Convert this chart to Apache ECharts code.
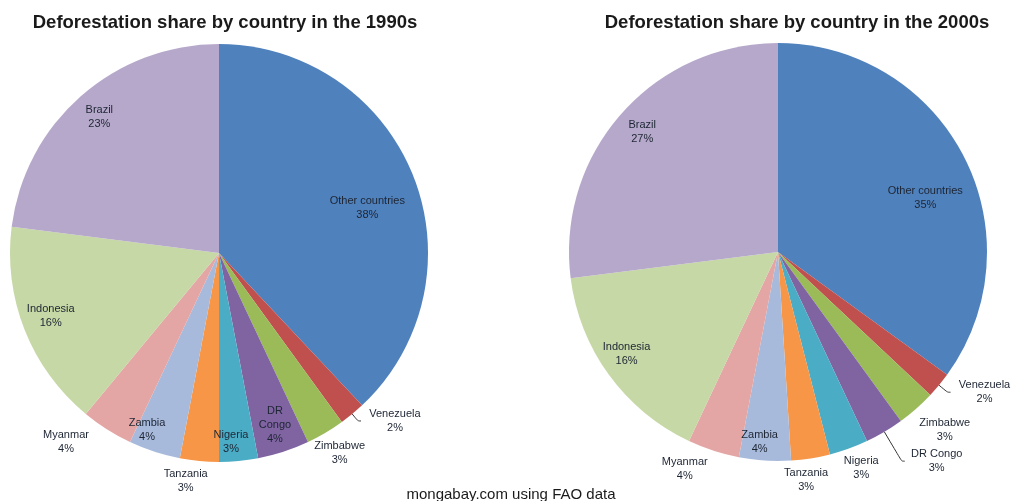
<!DOCTYPE html>
<html>
<head>
<meta charset="utf-8">
<script src="https://cdn.jsdelivr.net/npm/echarts@6/dist/echarts.min.js"></script>
<style>
  html, body { margin: 0; padding: 0; background: #fff; }
  #chart { width: 1013px; height: 501px; }
</style>
</head>
<body>
<div id="chart"></div>
<script>
// slices in clockwise order starting at 12 o'clock
var categories = ['Other countries', 'Venezuela', 'Zimbabwe', 'DR Congo', 'Nigeria',
                  'Tanzania', 'Zambia', 'Myanmar', 'Indonesia', 'Brazil'];
var share1990s = [38, 2, 3, 4, 3, 3, 4, 4, 16, 23];
var share2000s = [35, 2, 3, 3, 3, 3, 4, 4, 16, 27];

// where each label sits
var inner1990s = ['Other countries', 'DR Congo', 'Nigeria', 'Zambia', 'Indonesia', 'Brazil'];
var outer1990s = ['Zimbabwe', 'Tanzania', 'Myanmar'];
var lined1990s = ['Venezuela'];
var inner2000s = ['Other countries', 'Zambia', 'Indonesia', 'Brazil'];
var outer2000s = ['Zimbabwe', 'Nigeria', 'Tanzania', 'Myanmar'];
var lined2000s = ['Venezuela', 'DR Congo'];

// small nudges so labels land where Excel's best-fit put them
var nudge1990s = { 'Other countries': [-20, 22], 'Myanmar': [-26, -11], 'Tanzania': [-11, -8],
                   'Zambia': [-16, 5], 'Nigeria': [-5, 9], 'Zimbabwe': [0, -4], 'Indonesia': [0, -4] };
var nudge2000s = { 'Other countries': [-14, 28], 'Myanmar': [-20, -8], 'Tanzania': [-9, -6],
                   'Zambia': [-7, 9], 'Nigeria': [3, -7], 'Zimbabwe': [10, 0], 'Indonesia': [-5, -4] };

var colors = ['#4F81BD', '#C0504D', '#9BBB59', '#8064A2', '#4BACC6',
              '#F79646', '#A8BADC', '#E3A6A5', '#C6D8A5', '#B6A8CA'];

var FONT = '"Liberation Sans", Arial, sans-serif';
var TXT = '#1d2533';
var R = 209;

function labelText(name, yearKey) {
    if (yearKey === '1990s' && name === 'DR Congo') return 'DR\nCongo\n{d}%';
    return '{b}\n{d}%';
}

function pieSeries(values, center, inner, outer, lined, nudge, yearKey) {
    var list = [];
    // visible pie, carries the leader-line labels
    list.push({
        type: 'pie',
        center: center,
        radius: R,
        startAngle: 90,
        clockwise: true,
        avoidLabelOverlap: false,
        labelLayout: { hideOverlap: false },
        percentPrecision: 0,
        emphasis: { disabled: true },
        itemStyle: { borderWidth: 0 },
        labelLine: { show: false },
        data: categories.map(function (name, i) {
            var item = {
                name: name,
                value: values[i],
                itemStyle: { color: colors[i] },
                label: { show: false }
            };
            if (lined.indexOf(name) >= 0) {
                var isCongo = name === 'DR Congo';
                item.label = {
                    show: true,
                    position: 'outside',
                    formatter: '{t|{b}}\n{t|{d}%}',
                    rich: { t: { width: isCongo ? 54 : 58, align: 'center', fontSize: 11,
                                 fontFamily: FONT, color: TXT, lineHeight: 14 } }
                };
                item.labelLine = {
                    show: true,
                    length: isCongo ? 34 : (yearKey === '1990s' ? 9 : 11),
                    length2: 3,
                    smooth: 0.3,
                    lineStyle: { color: '#333', width: 1 }
                };
            }
            return item;
        })
    });
    // invisible rings used only to place centred labels
    [[inner, [150, 206]], [outer, [218, 250]]].forEach(function (g) {
        list.push({
            type: 'pie',
            center: center,
            radius: g[1],
            startAngle: 90,
            clockwise: true,
            silent: true,
            avoidLabelOverlap: false,
            labelLayout: { hideOverlap: false },
            percentPrecision: 0,
            emphasis: { disabled: true },
            itemStyle: { color: 'rgba(0,0,0,0)', borderWidth: 0 },
            labelLine: { show: false },
            data: categories.map(function (name, i) {
                return {
                    name: name,
                    value: values[i],
                    label: {
                        show: g[0].indexOf(name) >= 0,
                        position: 'inside',
                        formatter: labelText(name, yearKey),
                        offset: nudge[name] || [0, 0],
                        fontSize: 11,
                        lineHeight: 14,
                        fontFamily: FONT,
                        color: TXT
                    }
                };
            })
        });
    });
    return list;
}

var chart = echarts.init(document.getElementById('chart'));
chart.setOption({
    backgroundColor: '#fff',
    animation: false,
    title: [
        { text: 'Deforestation share by country in the 1990s', left: 220, top: 8, textAlign: 'center',
          textStyle: { fontSize: 18.5, fontWeight: 'bold', fontFamily: FONT, color: '#1a1a1a' } },
        { text: 'Deforestation share by country in the 2000s', left: 792, top: 8, textAlign: 'center',
          textStyle: { fontSize: 18.5, fontWeight: 'bold', fontFamily: FONT, color: '#1a1a1a' } },
        { text: 'mongabay.com using FAO data', left: 506, top: 482, textAlign: 'center',
          textStyle: { fontSize: 15, fontWeight: 'normal', fontFamily: FONT, color: '#1a1a1a' } }
    ],
    series: [].concat(
        pieSeries(share1990s, [219, 253], inner1990s, outer1990s, lined1990s, nudge1990s, '1990s'),
        pieSeries(share2000s, [778, 252], inner2000s, outer2000s, lined2000s, nudge2000s, '2000s')
    )
});
</script>
</body>
</html>
